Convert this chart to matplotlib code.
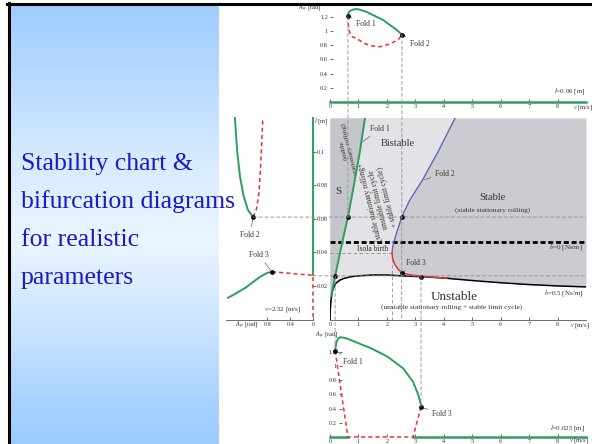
import numpy as np
import matplotlib.pyplot as plt
from matplotlib.patches import ConnectionPatch
from matplotlib.lines import Line2D

plt.rcParams['font.family'] = ['Liberation Serif', 'DejaVu Serif']
plt.rcParams['mathtext.fontset'] = 'stix'

# ---- values ----
title_lines = ["Stability chart &", "bifurcation diagrams", "for realistic", "parameters"]
v_ticks = list(range(9))

# stability chart: l [m] against v [m/s]
black_v = [0.0, 0.01, 0.03, 0.06, 0.1, 0.2, 0.35, 0.5, 0.75, 1.0, 1.5, 2.0, 2.5, 3.2, 4.0, 5.0, 6.0, 7.0, 8.0, 9.0]
black_l = [0.0, 0.006, 0.0105, 0.0145, 0.018, 0.0215, 0.0235, 0.0245, 0.0255, 0.026, 0.0265, 0.0265, 0.026,
           0.0255, 0.0247, 0.0232, 0.0219, 0.0208, 0.0200, 0.0194]
green_v = [0.05, 0.1, 0.18, 0.3, 0.45, 0.63, 0.85, 1.05, 1.23]
green_l = [0.014, 0.019, 0.026, 0.0355, 0.0475, 0.061, 0.081, 0.1, 0.12]
blue_v = [2.18, 2.2, 2.25, 2.35, 2.52, 2.8, 3.25, 3.8, 4.4]
blue_l = [0.0397, 0.043, 0.0465, 0.052, 0.061, 0.071, 0.083, 0.1, 0.12]
red_v = [2.18, 2.2, 2.27, 2.4, 2.53, 2.75, 3.0, 3.3, 3.7, 4.1]
red_l = [0.0397, 0.0365, 0.033, 0.0298, 0.0278, 0.0268, 0.0262, 0.0257, 0.0251, 0.0246]
b0_l = 0.0464          # b=0 boundary
l_hi, l_lo = 0.061, 0.026
isola_v, isola_l = 2.18, 0.0397
v_cut = 2.52

# bifurcation diagram, l = 0.06 m
top_green_v = [0.63, 0.66, 0.72, 0.85, 1.0, 1.3, 1.6, 1.86, 2.1, 2.34, 2.53]
top_green_A = [1.22, 1.27, 1.29, 1.31, 1.31, 1.27, 1.21, 1.16, 1.09, 1.02, 0.95]
top_red_v = [0.63, 0.66, 0.75, 1.0, 1.25, 1.5, 1.76, 2.1, 2.4, 2.53]
top_red_A = [1.22, 1.02, 0.93, 0.88, 0.82, 0.79, 0.78, 0.82, 0.88, 0.95]
top_fold1, top_fold2 = (0.63, 1.22), (2.53, 0.95)

# bifurcation diagram, l = 0.025 m
bot_green_v = [0.18, 0.22, 0.28, 0.38, 0.6, 0.9, 1.4, 2.0, 2.57, 2.92, 3.1, 3.2]
bot_green_A = [1.22, 1.33, 1.39, 1.41, 1.39, 1.34, 1.26, 1.14, 0.97, 0.78, 0.6, 0.45]
bot_red_v = [0.18, 0.4, 0.63, 1.5, 2.92, 3.05, 3.2]
bot_red_A = [1.22, 0.62, 0.0, 0.0, 0.0, 0.2, 0.42]
bot_stable_v = [(0.0, 0.63), (2.92, 9.0)]
bot_fold1, bot_fold3 = (0.18, 1.22), (3.2, 0.42)

# bifurcation diagram, v = 2.52 m/s (amplitude against l)
left_gu_A = [1.37, 1.33, 1.28, 1.22, 1.14, 1.05]
left_gu_l = [0.12, 0.1, 0.085, 0.074, 0.065, 0.061]
left_ru_A = [1.05, 0.99, 0.95, 0.92, 0.90, 0.88]
left_ru_l = [0.061, 0.066, 0.075, 0.09, 0.105, 0.12]
left_gl_A = [1.49, 1.40, 1.19, 0.93, 0.81, 0.72]
left_gl_l = [0.013, 0.0146, 0.0188, 0.0254, 0.0277, 0.0284]
left_rl_A = [0.72, 0.5, 0.25, 0.0, 0.0]
left_rl_l = [0.0284, 0.0278, 0.027, 0.0264, 0.0]
left_fold2, left_fold3 = (1.05, 0.061), (0.72, 0.0284)

# ---- styling ----
GREEN, RED, BLUE = '#2e9e60', '#e3343a', '#5a5ab4'
DASH = '#8e8e8e'
TXT = '#333333'
W, H = 592, 444
fig = plt.figure(figsize=(W / 100, H / 100), dpi=100)


def box(x0, y0, x1, y1):
    # pixel box, origin top-left -> figure rect
    return [x0 / W, 1 - y1 / H, (x1 - x0) / W, (y1 - y0) / H]


# blue gradient side panel
ax_bg = fig.add_axes(box(9, 6, 219, 444))
rows = np.arange(6, 444)
w = np.interp(rows, [6, 100, 160, 240, 330, 400, 444], [0.02, 0.36, 0.6, 0.8, 0.46, 0.12, 0.0])
blue0 = np.array([0.61, 0.80, 1.0])
grad = blue0 + (1 - blue0) * w[:, None]
ax_bg.imshow(grad[:, None, :], aspect='auto', extent=[0, 1, 0, 1])
ax_bg.axis('off')

for i, line in enumerate(title_lines):
    fig.text(21 / W, 1 - (170 + 38 * i) / H, line, fontsize=18.5, color='#1a1ac8',
             va='baseline', ha='left', zorder=5)

tick_kw = dict(labelsize=4.5, length=2, width=0.5, colors=TXT, labelcolor=TXT)


def dot(ax, xy):
    ax.plot(xy[0], xy[1], 'o', ms=2.4, color='k', zorder=6, clip_on=False)


def label(ax, xy, xytext, s, ha='left'):
    ax.annotate(s, xy=xy, xytext=xytext, fontsize=5.5, ha=ha, va='center', color=TXT,
                arrowprops=dict(arrowstyle='-', lw=0.5, color='#5a5f80', shrinkA=1, shrinkB=1.5))


# ---- main stability chart ----
ax = fig.add_axes(box(330, 118, 586, 319.5))
ax.set_xlim(0, 9)
ax.set_ylim(0, 0.12)
for s in ['top', 'right', 'left']:
    ax.spines[s].set_visible(False)
ax.spines['bottom'].set_color('#555555')
ax.spines['bottom'].set_linewidth(0.6)
ax.set_xticks(v_ticks)
ax.set_xticklabels([str(t) for t in v_ticks])
ax.set_yticks([])
ax.tick_params(axis='x', direction='in', pad=2, **tick_kw)

bv, bl = np.array(black_v), np.array(black_l)
ax.fill_between(bv, bl, 0.12, color='#cbccd1', lw=0, zorder=0)
m = (bv > green_v[0]) & (bv < red_v[-1])
poly_v = np.concatenate([green_v, blue_v[::-1], red_v, bv[m][::-1]])
poly_l = np.concatenate([green_l, blue_l[::-1], red_l, bl[m][::-1]])
ax.fill(poly_v, poly_l, color='#e3e3e7', lw=0, zorder=0.5)
ax.fill_betweenx(green_l, 0, green_v, color='#c5c6cb', lw=0, zorder=0.5)

ax.plot([0, isola_v], [isola_l, isola_l], color=DASH, lw=0.6, ls=(0, (4, 3)), zorder=1)
ax.plot([isola_v, isola_v], [isola_l, 0], color=DASH, lw=0.6, ls=(0, (4, 3)), zorder=1)
ax.axhline(b0_l, color='k', lw=2.0, ls=(0, (1.8, 1.0)), zorder=3)
ax.plot(black_v, black_l, color='k', lw=1.1, zorder=4)
ax.plot(green_v, green_l, color=GREEN, lw=1.4, zorder=4)
ax.plot(blue_v, blue_l, color=BLUE, lw=0.9, zorder=4)
ax.plot(red_v, red_l, color=RED, lw=1.1, zorder=4)
for xy in [(green_v[5], l_hi), (v_cut, l_hi), (green_v[2], l_lo), (3.2, black_l[13]), (red_v[4], red_l[4])]:
    dot(ax, xy)

label(ax, (1.08, 0.105), (1.41, 0.1137), 'Fold 1')
label(ax, (3.25, 0.083), (3.69, 0.0869), 'Fold 2')
label(ax, (red_v[4], red_l[4]), (2.67, 0.0337), 'Fold 3')
ax.text(1.48, 0.0418, 'Isola birth', fontsize=5.5, ha='center', va='center', color=TXT)
ax.text(0.28, 0.076, 'S', fontsize=8, ha='center', va='center', color=TXT)
ax.text(2.4, 0.105, 'Bistable', fontsize=7.5, ha='center', va='center', color=TXT)
ax.text(5.7, 0.0725, 'Stable', fontsize=7.5, ha='center', va='center', color=TXT)
ax.text(5.73, 0.065, '(stable stationary rolling)', fontsize=5.3, ha='center', va='center', color=TXT)
ax.text(4.36, 0.0134, 'Unstable', fontsize=9.5, ha='center', va='center', color=TXT)
ax.text(4.29, 0.0075, '(unstable stationary rolling + stable limit cycle)', fontsize=5.3,
        ha='center', va='center', color=TXT)
ax.text(0.58, 0.1015, '(stable\nstationary rolling)', fontsize=5.3, rotation=104, ha='center',
        va='center', rotation_mode='anchor', multialignment='center', linespacing=1.1, color=TXT)
ax.text(1.72, 0.0715, '(stable stationary rolling+\nunstable limit cycle\n+ stable limit cycle)',
        fontsize=5.6, rotation=104, ha='center', va='center', rotation_mode='anchor',
        multialignment='center', linespacing=1.1, color=TXT)
ax.text(8.89, 0.0433, r'$b$=0 [Ns/m]', fontsize=5, ha='right', va='center', color=TXT)
ax.text(8.89, 0.0158, r'$b$=0.5 [Ns/m]', fontsize=5, ha='right', va='center', color=TXT)
ax.text(8.44, -0.0033, r'$v$ [m/s]', fontsize=4.8, ha='left', va='center', color=TXT)

# ---- left panel: v = 2.52 m/s ----
axl = fig.add_axes(box(225.8, 118, 313, 319.5))
axl.set_xlim(1.53, 0)
axl.set_ylim(0, 0.12)
axl.patch.set_alpha(0)
for s in ['top', 'right', 'left']:
    axl.spines[s].set_visible(False)
axl.spines['bottom'].set_color('#555555')
axl.spines['bottom'].set_linewidth(0.6)
axl.yaxis.tick_right()
axl.set_yticks([0.02, 0.04, 0.06, 0.08, 0.1])
axl.set_yticklabels(['0.02', '0.04', '0.06', '0.08', '0.1'])
axl.tick_params(axis='y', direction='out', pad=1, **tick_kw)
axl.set_xticks([0.8, 0.4, 0])
axl.set_xticklabels(['0.8', '0.4', '0'])
axl.tick_params(axis='x', direction='in', pad=2, **tick_kw)
axl.plot(left_gu_A, left_gu_l, color=GREEN, lw=1.4, clip_on=False)
axl.plot(left_ru_A, left_ru_l, color=RED, lw=1.1, ls=(0, (2.7, 2)), clip_on=False)
axl.plot(left_gl_A, left_gl_l, color=GREEN, lw=1.4, clip_on=False)
axl.plot(left_rl_A, left_rl_l, color=RED, lw=1.1, ls=(0, (2.7, 2)), clip_on=False)
axl.plot([0, 0], [left_rl_l[3], 0.12], color=GREEN, lw=1.4, clip_on=False)
dot(axl, left_fold2)
dot(axl, left_fold3)
label(axl, left_fold2, (1.105, 0.0504), 'Fold 2', ha='center')
label(axl, left_fold3, (0.95, 0.0385), 'Fold 3', ha='center')
axl.text(0.53, 0.0057, r'$v$=2.52 [m/s]', fontsize=5, ha='center', va='center', color=TXT)
axl.text(1.16, -0.0033, r'$A_\psi$ [rad]', fontsize=4.8, ha='center', va='center', color=TXT)
axl.text(-0.02, 0.1185, r'$l$ [m]', fontsize=4.8, ha='left', va='center', color=TXT)

# ---- top panel: l = 0.06 m ----
axt = fig.add_axes(box(330, 5.7, 586, 105.5))
axt.set_xlim(0, 9)
axt.set_ylim(-0.05, 1.36)
axt.patch.set_alpha(0)
for s in axt.spines.values():
    s.set_visible(False)
axt.spines['left'].set_position(('data', 0))
axt.spines['bottom'].set_position(('data', 0))
axt.set_xticks(v_ticks)
axt.set_xticklabels([str(t) for t in v_ticks])
axt.set_yticks([0.2, 0.4, 0.6, 0.8, 1.0, 1.2])
axt.set_yticklabels(['0.2', '0.4', '0.6', '0.8', '1', '1.2'])
axt.tick_params(direction='in', pad=1.5, **tick_kw)
axt.plot([0, 9], [0, 0], color=GREEN, lw=1.8, clip_on=False)
axt.plot(top_green_v, top_green_A, color=GREEN, lw=1.4)
axt.plot(top_red_v, top_red_A, color=RED, lw=1.1, ls=(0, (2.7, 2)))
dot(axt, top_fold1)
dot(axt, top_fold2)
label(axt, top_fold1, (0.91, 1.10), 'Fold 1')
label(axt, top_fold2, (2.81, 0.82), 'Fold 2')
axt.text(8.98, 0.155, r'$l$=0.06 [m]', fontsize=5, ha='right', va='center', color=TXT)
axt.text(8.55, -0.085, r'$v$ [m/s]', fontsize=4.8, ha='left', va='center', color=TXT)
axt.text(-0.7, 1.34, r'$A_\psi$ [rad]', fontsize=4.8, ha='center', va='center', color=TXT)

# ---- bottom panel: l = 0.025 m ----
axb = fig.add_axes(box(330, 334.3, 586, 440.5))
axb.set_xlim(0, 9)
axb.set_ylim(-0.05, 1.45)
axb.patch.set_alpha(0)
for s in axb.spines.values():
    s.set_visible(False)
axb.spines['left'].set_position(('data', 0.3))
axb.spines['bottom'].set_position(('data', 0))
axb.set_xticks(v_ticks)
axb.set_xticklabels([str(t) for t in v_ticks])
axb.set_yticks([0.2, 0.4, 0.6, 0.8, 1.0, 1.2])
axb.set_yticklabels(['0.2', '0.4', '0.6', '0.8', '1', '1.2'])
axb.tick_params(direction='in', pad=1.5, **tick_kw)
for v0, v1 in bot_stable_v:
    axb.plot([v0, v1], [0, 0], color=GREEN, lw=1.8, clip_on=False)
axb.plot(bot_green_v, bot_green_A, color=GREEN, lw=1.4)
axb.plot(bot_red_v, bot_red_A, color=RED, lw=1.1, ls=(0, (2.7, 2)), clip_on=False)
dot(axb, bot_fold1)
dot(axb, bot_fold3)
label(axb, bot_fold1, (0.46, 1.06), 'Fold 1')
label(axb, bot_fold3, (3.59, 0.325), 'Fold 3')
axb.text(8.95, 0.127, r'$l$=0.025 [m]', fontsize=5, ha='right', va='center', color=TXT)
axb.text(8.4, -0.045, r'$v$ [m/s]', fontsize=4.8, ha='left', va='center', color=TXT)
axb.text(-0.1, 1.44, r'$A_\psi$ [rad]', fontsize=4.8, ha='center', va='center', color=TXT)

# ---- thin dashed guide lines linking the panels ----
guides = [
    (axt, top_fold1, ax, (top_fold1[0], l_hi)),
    (axt, top_fold2, ax, (v_cut, 0)),
    (axl, left_fold2, ax, (9, l_hi)),
    (axl, (0, l_lo), ax, (9, l_lo)),
    (ax, (bot_fold1[0], l_lo), axb, bot_fold1),
    (ax, (bot_fold3[0], l_lo), axb, bot_fold3),
]
for a1, p1, a2, p2 in guides:
    con = ConnectionPatch(xyA=p1, coordsA=a1.transData, xyB=p2, coordsB=a2.transData,
                          color=DASH, lw=0.6, ls=(0, (4, 3)), zorder=2)
    fig.add_artist(con)

# slide frame
fig.add_artist(Line2D([7 / W, 1], [1 - 4.5 / H] * 2, lw=2.2, color='black'))
fig.add_artist(Line2D([8.5 / W] * 2, [0, 1 - 3.5 / H], lw=2.2, color='black'))

fig.savefig('out.png', dpi=100)
